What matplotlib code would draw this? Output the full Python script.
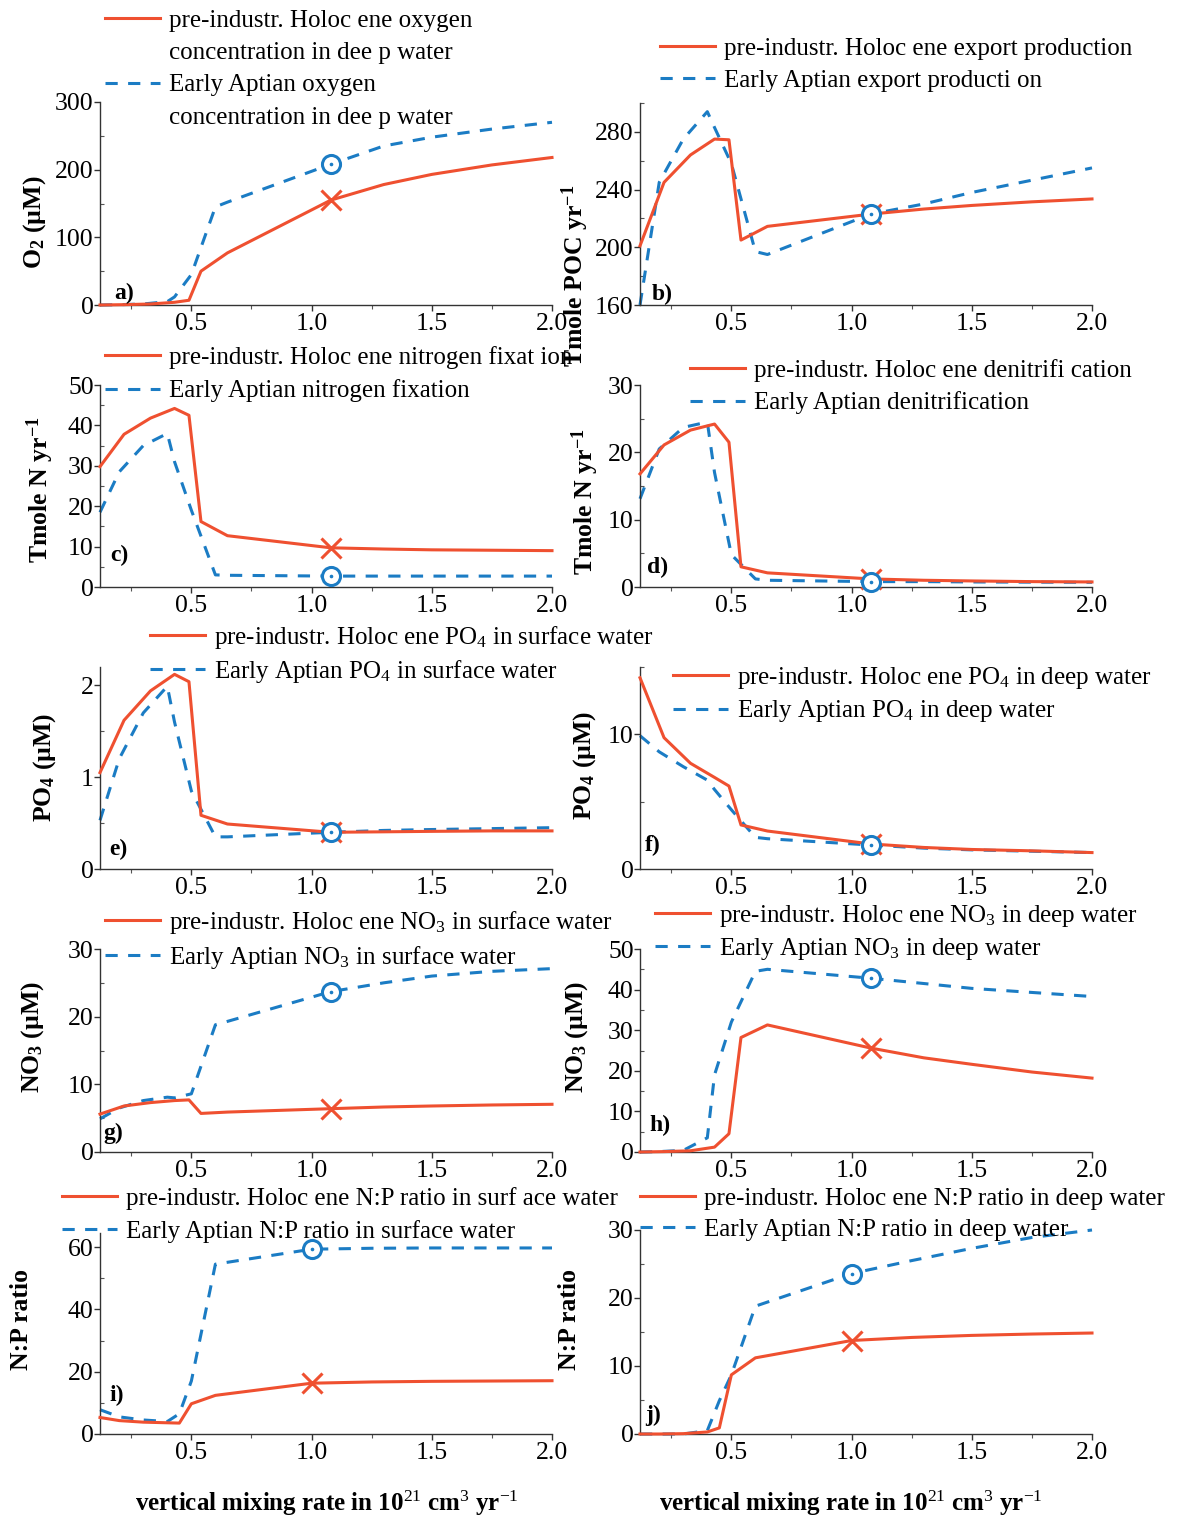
import matplotlib
matplotlib.use("Agg")
import matplotlib.pyplot as plt
from matplotlib.lines import Line2D
from matplotlib.ticker import MultipleLocator, FixedLocator

# ---------------------------------------------------------------------------
# Model output: vertical mixing rate (10^21 cm3/yr) and the response of
# each quantity for the pre-industrial Holocene and Early Aptian runs
# ---------------------------------------------------------------------------
x_hol = [0.12, 0.22, 0.33, 0.43, 0.49, 0.54, 0.65, 1.08, 1.3, 1.5, 1.75, 2.0]
x_apt = [0.12, 0.2, 0.3, 0.4, 0.43, 0.5, 0.6, 0.65, 1.08, 1.3, 1.5, 1.75, 2.0]
x_np = [0.12, 0.2, 0.3, 0.4, 0.45, 0.5, 0.6, 1.0, 1.25, 1.5, 1.75, 2.0]

# reference mixing rate highlighted in every panel
ref_mix = 1.08
ref_mix_np = 1.0

o2_hol = [0, 0.5, 1.5, 4, 7, 50, 77, 155, 178, 193, 207, 218]
o2_apt = [0, 0.5, 1.5, 5, 12, 45, 145, 152, 208, 235, 248, 260, 270]

exp_hol = [201, 245, 264, 275, 274.5, 205, 214.5, 223, 226.5, 229, 231.5, 233.5]
exp_apt = [160, 245, 275, 294, 283, 258, 197, 195, 223, 230, 238, 246.5, 255]

nfix_hol = [29.8, 37.8, 41.8, 44.2, 42.5, 16.2, 12.7, 9.7, 9.4, 9.2, 9.1, 9.0]
nfix_apt = [18.5, 28.5, 35, 38, 31, 19, 3, 2.9, 2.7, 2.7, 2.7, 2.7, 2.7]

denit_hol = [16.8, 21.1, 23.3, 24.2, 21.5, 3.0, 2.1, 1.2, 1.0, 0.9, 0.8, 0.75]
denit_apt = [13.1, 20.5, 23.7, 24.5, 17, 4.8, 1.2, 1.0, 0.8, 0.8, 0.75, 0.72, 0.7]

po4s_hol = [1.05, 1.62, 1.94, 2.12, 2.04, 0.585, 0.49, 0.40, 0.405, 0.41, 0.415, 0.415]
po4s_apt = [0.53, 1.2, 1.7, 1.99, 1.6, 0.85, 0.35, 0.35, 0.40, 0.42, 0.43, 0.44, 0.45]

po4d_hol = [14.2, 9.75, 7.85, 6.8, 6.16, 3.27, 2.82, 1.86, 1.6, 1.45, 1.35, 1.22]
po4d_apt = [9.9, 8.7, 7.6, 6.6, 5.9, 4.4, 2.35, 2.25, 1.78, 1.55, 1.42, 1.32, 1.22]

no3s_hol = [5.6, 6.8, 7.3, 7.6, 7.7, 5.7, 5.9, 6.4, 6.65, 6.8, 6.95, 7.05]
no3s_apt = [4.9, 6.5, 7.6, 8.1, 8.0, 8.6, 18.8, 19.3, 23.7, 25.0, 26.0, 26.7, 27.1]

no3d_hol = [0, 0.1, 0.3, 1.2, 4.5, 28.2, 31.3, 25.6, 23.2, 21.6, 19.7, 18.2]
no3d_apt = [0, 0.1, 0.4, 3.5, 19, 32, 44.5, 45.0, 42.8, 41.5, 40.3, 39.3, 38.3]

nps_hol = [5.3, 4.3, 3.8, 3.6, 3.5, 9.7, 12.4, 16.3, 16.7, 16.9, 17.0, 17.1]
nps_apt = [7.8, 5.5, 4.5, 4.0, 6.5, 17, 54.5, 59.3, 59.6, 59.7, 59.7, 59.7]

npd_hol = [0, 0, 0.05, 0.3, 0.9, 8.7, 11.2, 13.75, 14.2, 14.5, 14.7, 14.85]
npd_apt = [0, 0, 0, 0.5, 4.9, 8.7, 18.8, 23.6, 25.5, 27.3, 28.9, 30.0]

x_ticks = [0.5, 1.0, 1.5, 2.0]
x_ticklabels = ["0.5", "1.0", "1.5", "2.0"]

# ---------------------------------------------------------------------------
plt.rcParams["font.family"] = ["Liberation Serif", "DejaVu Serif"]
plt.rcParams["mathtext.fontset"] = "custom"
plt.rcParams["mathtext.rm"] = "Liberation Serif"
plt.rcParams["mathtext.it"] = "Liberation Serif:italic"
plt.rcParams["mathtext.bf"] = "Liberation Serif:bold"

RED = "#EF5030"
BLUE = "#1B7CC4"
DASH = (0, (4, 3.4))
LW = 2.2
FS = 18.5

W, H = 1180, 1520
fig = plt.figure(figsize=(W / 100, H / 100), dpi=100)


def frame(l, t, r, b):
    return fig.add_axes([l / W, 1 - b / H, (r - l) / W, (b - t) / H])


def fx(px):
    return px / W


def fy(py):
    return 1 - py / H


panels = [
    # letter, frame (l, t, r, b), x grids, series, ylim, yticks, minor,
    # ylabel, ylabel centre, letter centre, legend anchor, legend labels
    dict(tag="a)", box=(100, 102, 552, 305), xs=(x_hol, x_apt), ref=ref_mix,
         ys=(o2_hol, o2_apt), ylim=(0, 300), yt=[0, 100, 200, 300], ym=50,
         ylab=r"O$_{\mathbf{2}}$ (µM)", ylc=(35, 222), tc=(124, 293),
         leg=(105, 20), ls=0.4,
         labels=["pre-industr. Holoc ene oxygen", "concentration in dee p water",
                 "Early Aptian oxygen", "concentration in dee p water"]),
    dict(tag="b)", box=(640, 103, 1092, 305), xs=(x_hol, x_apt), ref=ref_mix,
         ys=(exp_hol, exp_apt), ylim=(160, 300), yt=[160, 200, 240, 280], ym=20,
         ylab=r"Tmole POC yr$^{\mathbf{-1}}$", ylc=(575, 276), tc=(662, 294),
         leg=(660, 48), ls=0.4,
         labels=["pre-industr. Holoc ene export production",
                 "Early Aptian export producti on"]),
    dict(tag="c)", box=(100, 385, 552, 587), xs=(x_hol, x_apt), ref=ref_mix,
         ys=(nfix_hol, nfix_apt), ylim=(0, 50), yt=[0, 10, 20, 30, 40, 50], ym=5,
         ylab=r"Tmole N yr$^{\mathbf{-1}}$", ylc=(40, 490), tc=(119, 555),
         leg=(105, 357), ls=0.42,
         labels=["pre-industr. Holoc ene nitrogen fixat ion",
                 "Early Aptian nitrogen fixation"]),
    dict(tag="d)", box=(640, 385, 1092, 587), xs=(x_hol, x_apt), ref=ref_mix,
         ys=(denit_hol, denit_apt), ylim=(0, 30), yt=[0, 10, 20, 30], ym=5,
         ylab=r"Tmole N yr$^{\mathbf{-1}}$", ylc=(585, 502), tc=(658, 567),
         leg=(690, 370), ls=0.38,
         labels=["pre-industr. Holoc ene denitrifi cation",
                 "Early Aptian denitrification"]),
    dict(tag="e)", box=(100, 667, 552, 869), xs=(x_hol, x_apt), ref=ref_mix,
         ys=(po4s_hol, po4s_apt), ylim=(0, 2.2), yt=[0, 1, 2], ym=0.5,
         ylab=r"PO$_{\mathbf{4}}$ (µM)", ylc=(45, 767), tc=(118, 849),
         leg=(150, 635), ls=0.28,
         labels=[r"pre-industr. Holoc ene PO$_4$ in surface water",
                 r"Early Aptian PO$_4$ in surface water"]),
    dict(tag="f)", box=(640, 667, 1092, 869), xs=(x_hol, x_apt), ref=ref_mix,
         ys=(po4d_hol, po4d_apt), ylim=(0, 15), yt=[0, 10], ym=5,
         ylab=r"PO$_{\mathbf{4}}$ (µM)", ylc=(585, 765), tc=(653, 845),
         leg=(673, 676), ls=0.3,
         labels=[r"pre-industr. Holoc ene PO$_4$ in deep water",
                 r"Early Aptian PO$_4$ in deep water"]),
    dict(tag="g)", box=(100, 949, 552, 1152), xs=(x_hol, x_apt), ref=ref_mix,
         ys=(no3s_hol, no3s_apt), ylim=(0, 30), yt=[0, 10, 20, 30], ym=5,
         ylab=r"NO$_{\mathbf{3}}$ (µM)", ylc=(33, 1037), tc=(113, 1133),
         leg=(105, 920), ls=0.3,
         labels=[r"pre-industr. Holoc ene NO$_3$ in surface water",
                 r"Early Aptian NO$_3$ in surface water"]),
    dict(tag="h)", box=(640, 949, 1092, 1152), xs=(x_hol, x_apt), ref=ref_mix,
         ys=(no3d_hol, no3d_apt), ylim=(0, 50), yt=[0, 10, 20, 30, 40, 50], ym=5,
         ylab=r"NO$_{\mathbf{3}}$ (µM)", ylc=(577, 1037), tc=(660, 1125),
         leg=(655, 914), ls=0.28,
         labels=[r"pre-industr. Holoc ene NO$_3$ in deep water",
                 r"Early Aptian NO$_3$ in deep water"]),
    dict(tag="i)", box=(100, 1233, 552, 1434), xs=(x_np, x_np), ref=ref_mix_np,
         ys=(nps_hol, nps_apt), ylim=(0, 64.5), yt=[0, 20, 40, 60], ym=10,
         ylab="N:P ratio", ylc=(22, 1320), tc=(117, 1395),
         leg=(62, 1198), ls=0.4,
         labels=["pre-industr. Holoc ene N:P ratio in surf ace water",
                 "Early Aptian N:P ratio in surface water"]),
    dict(tag="j)", box=(640, 1230, 1092, 1434), xs=(x_np, x_np), ref=ref_mix_np,
         ys=(npd_hol, npd_apt), ylim=(0, 30), yt=[0, 10, 20, 30], ym=5,
         ylab="N:P ratio", ylc=(570, 1320), tc=(653, 1415),
         leg=(640, 1198), ls=0.36,
         labels=["pre-industr. Holoc ene N:P ratio in deep water",
                 "Early Aptian N:P ratio in deep water"]),
]

for p in panels:
    ax = frame(*p["box"])
    xh, xa = p["xs"]
    yh, ya = p["ys"]

    ax.plot(xh, yh, color=RED, lw=LW, clip_on=False, zorder=3)
    ax.plot(xa, ya, color=BLUE, lw=LW, ls=DASH, clip_on=False, zorder=2)

    # highlighted reference runs
    ih = xh.index(p["ref"])
    ia = xa.index(p["ref"])
    ax.plot([xh[ih]], [yh[ih]], ls="none", marker="x", ms=15, mew=2.2,
            color=RED, zorder=4, clip_on=False)
    ax.plot([xa[ia]], [ya[ia]], ls="none", marker="o", ms=13, mew=2.2,
            mfc="white", mec=BLUE, zorder=5, clip_on=False)
    ax.plot([xa[ia]], [ya[ia]], ls="none", marker="o", ms=1.6,
            color=BLUE, zorder=6, clip_on=False)

    ax.set_xlim(0.12, 2.0)
    ax.set_ylim(*p["ylim"])
    ax.xaxis.set_major_locator(FixedLocator(x_ticks))
    ax.set_xticklabels(x_ticklabels)
    ax.xaxis.set_minor_locator(MultipleLocator(0.25))
    ax.yaxis.set_major_locator(FixedLocator(p["yt"]))
    ax.yaxis.set_minor_locator(MultipleLocator(p["ym"]))

    for s in ("top", "right"):
        ax.spines[s].set_visible(False)
    for s in ("left", "bottom"):
        ax.spines[s].set_color("#333333")
        ax.spines[s].set_linewidth(1.0)
    ax.tick_params(which="major", direction="out", length=4, width=1,
                   color="#333333", labelsize=FS)
    ax.tick_params(axis="y", which="major", pad=0.5)
    ax.tick_params(axis="x", which="major", pad=2)
    ax.tick_params(axis="x", which="minor", direction="out", length=3,
                   width=0.8, color="#555555")
    ax.tick_params(axis="y", which="minor", direction="in", length=3,
                   width=0.8, color="#555555")
    ax.patch.set_visible(False)

    # legend: a solid / dashed key with its label, long labels wrap
    red_key = Line2D([], [], color=RED, lw=LW)
    blue_key = Line2D([], [], color=BLUE, lw=LW, ls=DASH)
    blank = Line2D([], [], color="none")
    labels = p["labels"]
    if len(labels) == 4:
        handles = [red_key, blank, blue_key, blank]
    else:
        handles = [red_key, blue_key]
    hx, hy = p["leg"]
    leg = ax.legend(handles, labels, loc="upper left",
                    bbox_to_anchor=(fx(hx), fy(hy - 11)),
                    bbox_transform=fig.transFigure, frameon=False,
                    borderpad=0, borderaxespad=0, handlelength=2.2,
                    handletextpad=0.35, labelspacing=p["ls"],
                    prop={"size": 18})
    leg.set_zorder(10)

    fig.text(fx(p["ylc"][0]), fy(p["ylc"][1]), p["ylab"], rotation=90,
             ha="center", va="center", fontsize=FS, fontweight="bold")
    fig.text(fx(p["tc"][0]), fy(p["tc"][1]), p["tag"], ha="center",
             va="center", fontsize=17, fontweight="bold")

xlab = r"vertical mixing rate in 10$^{21}$ cm$^{3}$ yr$^{-1}$"
fig.text(fx(327), fy(1503), xlab, ha="center", va="center", fontsize=18,
         fontweight="bold")
fig.text(fx(851), fy(1503), xlab, ha="center", va="center", fontsize=18,
         fontweight="bold")

fig.savefig("out.png", dpi=100)
